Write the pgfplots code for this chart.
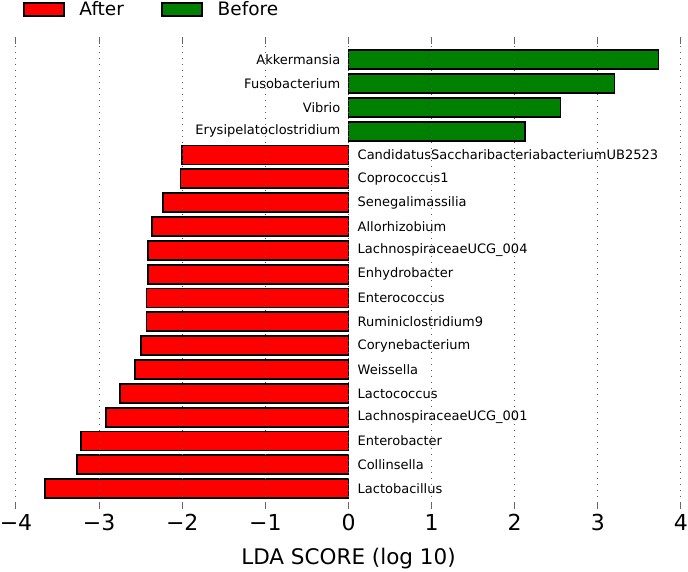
\documentclass[border=0pt]{standalone}
\usepackage{pgfplots}
\usepackage{pgfplotstable}
\pgfplotsset{compat=1.18}
\usepackage{fontspec}
\setmainfont{DejaVu Sans}
\definecolor{lefsered}{RGB}{255,0,0}
\definecolor{lefsegreen}{RGB}{0,128,0}

\pgfplotstableread{
y v
18 3.73
17 3.20
16 2.55
15 2.12
}\beforetab

\pgfplotstableread{
y v
14 -2.00
13 -2.02
12 -2.23
11 -2.36
10 -2.41
9 -2.41
8 -2.43
7 -2.43
6 -2.50
5 -2.57
4 -2.75
3 -2.92
2 -3.22
1 -3.27
0 -3.65
}\aftertab

\begin{document}
\begin{tikzpicture}
\useasboundingbox (0,0) rectangle (688pt,572pt);
\begin{axis}[
 at={(16pt,63pt)}, anchor=south west,
 scale only axis, width=665pt, height=472pt,
 xmin=-4, xmax=4, ymin=-0.85, ymax=18.95,
 xbar, bar width=19pt, bar shift=0pt,
 axis line style={draw=none},
 ytick=\empty,
 xtick={-4,-3,-2,-1,0,1,2,3,4},
 xticklabels={−4,−3,−2,−1,0,1,2,3,4},
 xticklabel pos=lower, xtick pos=both,
 tick align=inside, major tick length=7pt,
 tick style={black!60, line width=1pt},
 xmajorgrids,
 grid style={black!65, line width=1pt, dash pattern=on 1pt off 5pt},
 axis on top,
 xticklabel style={font=\fontsize{22}{26}\selectfont, yshift=-2pt},
 xlabel={LDA SCORE (log 10)},
 xlabel style={font=\fontsize{21.5}{26}\selectfont, yshift=-10pt},
 legend columns=2,
 legend style={draw=none, fill=none, at={(0,1)}, anchor=west,
   xshift=6.7pt, yshift=27.5pt, inner sep=0pt, outer sep=0pt,
   nodes={inner sep=0pt},
   font=\fontsize{18.5}{22}\selectfont,
   /tikz/every odd column/.append style={column sep=15pt},
   /tikz/every even column/.append style={column sep=37pt}},
 legend image code/.code={\draw[#1, line width=1.8pt] (0pt,-6.5pt) rectangle (40pt,6.5pt);},
]
\addplot[fill=lefsered, draw=black, line width=1.8pt] table[x=v, y=y] {\aftertab};
\addlegendentry{After}
\addplot[fill=lefsegreen, draw=black, line width=1.8pt] table[x=v, y=y] {\beforetab};
\addlegendentry{Before}

\begin{scope}[every node/.style={inner sep=0pt, font=\fontsize{13}{15}\selectfont}]
\node[anchor=east, xshift=-8pt] at (axis cs:0,18) {Akkermansia};
\node[anchor=east, xshift=-8pt] at (axis cs:0,17) {Fusobacterium};
\node[anchor=east, xshift=-8pt] at (axis cs:0,16) {Vibrio};
\node[anchor=east, xshift=-8pt] at (axis cs:0,15) {Erysipelatoclostridium};
\node[anchor=west, xshift=9pt] at (axis cs:0,14) {CandidatusSaccharibacteriabacteriumUB2523};
\node[anchor=west, xshift=9pt] at (axis cs:0,13) {Coprococcus1};
\node[anchor=west, xshift=9pt] at (axis cs:0,12) {Senegalimassilia};
\node[anchor=west, xshift=9pt] at (axis cs:0,11) {Allorhizobium};
\node[anchor=west, xshift=9pt] at (axis cs:0,10) {LachnospiraceaeUCG\_004};
\node[anchor=west, xshift=9pt] at (axis cs:0,9) {Enhydrobacter};
\node[anchor=west, xshift=9pt] at (axis cs:0,8) {Enterococcus};
\node[anchor=west, xshift=9pt] at (axis cs:0,7) {Ruminiclostridium9};
\node[anchor=west, xshift=9pt] at (axis cs:0,6) {Corynebacterium};
\node[anchor=west, xshift=9pt] at (axis cs:0,5) {Weissella};
\node[anchor=west, xshift=9pt] at (axis cs:0,4) {Lactococcus};
\node[anchor=west, xshift=9pt] at (axis cs:0,3) {LachnospiraceaeUCG\_001};
\node[anchor=west, xshift=9pt] at (axis cs:0,2) {Enterobacter};
\node[anchor=west, xshift=9pt] at (axis cs:0,1) {Collinsella};
\node[anchor=west, xshift=9pt] at (axis cs:0,0) {Lactobacillus};
\end{scope}
\end{axis}
\end{tikzpicture}
\end{document}
